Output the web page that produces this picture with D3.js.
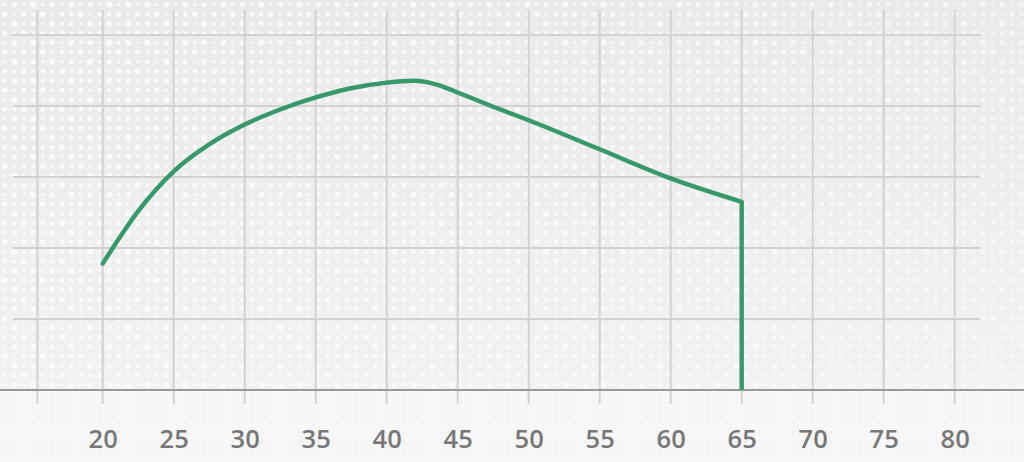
<!DOCTYPE html>
<html>
<head>
<meta charset="utf-8">
<script src="https://cdn.jsdelivr.net/npm/d3@7/dist/d3.min.js"></script>
<style>
  html, body { margin: 0; padding: 0; background: #f6f6f6; }
  svg { display: block; }
</style>
</head>
<body>
<svg id="chart" width="1024" height="462"></svg>
<script>
// ---- data ----
const ages   = [20, 22.5, 25, 27.5, 30, 32.5, 35, 37.5, 40, 42, 43, 44, 45, 47.5, 50, 55, 60, 65, 65];
const values = [1.78, 2.52, 3.08, 3.46, 3.74, 3.95, 4.12, 4.25, 4.33, 4.355, 4.33, 4.27, 4.19, 3.99, 3.80, 3.39, 2.98, 2.65, 0];
const xTickLabels = [20, 25, 30, 35, 40, 45, 50, 55, 60, 65, 70, 75, 80];
const xGridValues = [15.4, 20, 25, 30, 35, 40, 45, 50, 55, 60, 65, 70, 75, 80];
const yGridValues = [1, 2, 3, 4, 5];

const W = 1024, H = 462;
const svg = d3.select("#chart");

const x = d3.scaleLinear().domain([20, 80]).range([102.7, 954.7]);
const y = d3.scaleLinear().domain([0, 5]).range([390, 35]);

// ---- background ----
const defs = svg.append("defs");
const grad = defs.append("linearGradient").attr("id", "bg").attr("x1", 0).attr("y1", 0).attr("x2", 0).attr("y2", 1);
grad.append("stop").attr("offset", "0%").attr("stop-color", "#eaeaea");
grad.append("stop").attr("offset", "84%").attr("stop-color", "#f2f2f2");
grad.append("stop").attr("offset", "100%").attr("stop-color", "#f7f7f7");

// halftone dot pattern (white dots, varied sizes)
const pat = defs.append("pattern").attr("id", "dots").attr("patternUnits", "userSpaceOnUse")
  .attr("width", 38).attr("height", 38);
const radii = [[1.8, 2.6, 1.4, 3.0], [2.8, 1.6, 2.4, 2.0], [1.4, 3.0, 1.8, 2.4], [2.4, 2.0, 2.8, 1.5]];
radii.forEach((row, i) => row.forEach((r, j) => {
  pat.append("circle").attr("cx", 4.75 + j * 9.5).attr("cy", 4.75 + i * 9.5).attr("r", r).attr("fill", "#fbfbfb");
}));
// small gray dots below axis
const pat2 = defs.append("pattern").attr("id", "gdots").attr("patternUnits", "userSpaceOnUse")
  .attr("width", 9.5).attr("height", 9.5);
pat2.append("circle").attr("cx", 4.75).attr("cy", 4.75).attr("r", 0.9).attr("fill", "#e4e4e4");

const fadeG = defs.append("linearGradient").attr("id", "fade").attr("x1", 0).attr("y1", 0).attr("x2", 1).attr("y2", 0);
fadeG.append("stop").attr("offset", "0%").attr("stop-color", "#fff").attr("stop-opacity", 1);
fadeG.append("stop").attr("offset", "100%").attr("stop-color", "#fff").attr("stop-opacity", 0.65);
const mask = defs.append("mask").attr("id", "fadeMask");
mask.append("rect").attr("width", W).attr("height", H).attr("fill", "url(#fade)");

svg.append("rect").attr("width", W).attr("height", H).attr("fill", "url(#bg)");
svg.append("rect").attr("width", W).attr("height", y(0)).attr("fill", "url(#dots)").attr("mask", "url(#fadeMask)");
svg.append("rect").attr("y", y(0)).attr("width", W).attr("height", H - y(0)).attr("fill", "#f7f7f7");
svg.append("rect").attr("y", y(0)).attr("width", W).attr("height", 70).attr("fill", "url(#gdots)");

// ---- grid ----
const gridColor = "#d2d2d2";
svg.append("g").selectAll("line").data(yGridValues).join("line")
  .attr("x1", 13).attr("x2", 980)
  .attr("y1", d => y(d)).attr("y2", d => y(d))
  .attr("stroke", gridColor).attr("stroke-width", 2);

svg.append("g").selectAll("line").data(xGridValues).join("line")
  .attr("x1", d => x(d)).attr("x2", d => x(d))
  .attr("y1", 10).attr("y2", 404)
  .attr("stroke", gridColor).attr("stroke-width", 2);

// baseline axis
svg.append("line").attr("x1", 0).attr("x2", W).attr("y1", y(0)).attr("y2", y(0))
  .attr("stroke", "#9a9a9a").attr("stroke-width", 2);

// x tick labels via axis
const xAxis = d3.axisBottom(x).tickValues(xTickLabels).tickSize(0).tickPadding(0).tickFormat(d3.format("d"));
const ax = svg.append("g").attr("transform", "translate(0,448)").call(xAxis);
ax.select(".domain").remove();
ax.attr("font-size", null).attr("font-family", null);
ax.selectAll("text")
  .attr("dy", 0)
  .attr("fill", "#777")
  .style("font-family", "'Open Sans', sans-serif")
  .style("font-size", "25.5px")
  .style("font-weight", "600");

// ---- line ----
const pts = ages.map((a, i) => [a, values[i]]);
const curvePts = pts.slice(0, pts.length - 1);
const line = d3.line().x(d => x(d[0])).y(d => y(d[1])).curve(d3.curveMonotoneX);
const green = "#37996a";
svg.append("path").attr("d", line(curvePts))
  .attr("fill", "none").attr("stroke", green).attr("stroke-width", 4.4)
  .attr("stroke-linecap", "round").attr("stroke-linejoin", "round");
const drop = pts.slice(pts.length - 2);
svg.append("path").attr("d", d3.line().x(d => x(d[0])).y(d => y(d[1]))(drop))
  .attr("fill", "none").attr("stroke", green).attr("stroke-width", 4.4)
  .attr("stroke-linejoin", "miter");
</script>
</body>
</html>
